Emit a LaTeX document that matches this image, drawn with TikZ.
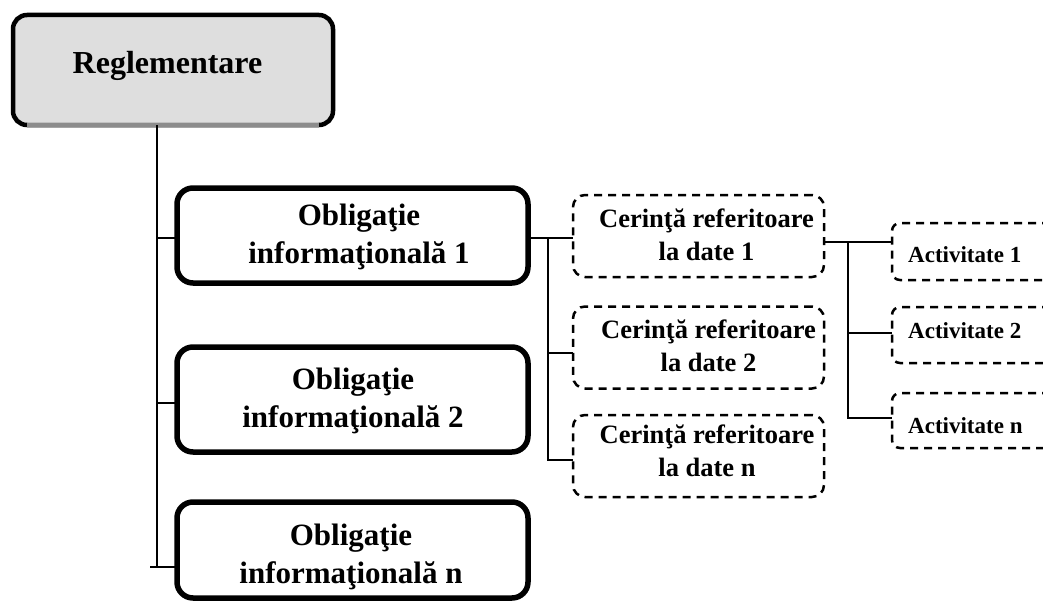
\documentclass[tikz,border=0pt]{standalone}
\usepackage{fontspec}
\setmainfont{Liberation Serif}
\begin{document}
\begin{tikzpicture}[x=1pt,y=-1pt,
  regbox/.style={draw=black, line width=4.5pt, rounded corners=14pt, fill=black!13, minimum width=320pt, minimum height=110pt, inner sep=0pt, outer sep=0pt},
  obbox/.style={draw=black, line width=5.5pt, rounded corners=16pt, minimum width=351pt, inner sep=0pt, outer sep=0pt},
  cerbox/.style={draw=black, line width=2.5pt, dash pattern=on 8pt off 6pt, rounded corners=12pt, minimum width=251pt, minimum height=82pt, inner sep=0pt, outer sep=0pt},
  actbox/.style={draw=black, line width=2.5pt, dash pattern=on 8pt off 6pt, rounded corners=8pt, minimum width=180pt, inner sep=0pt, outer sep=0pt, anchor=west},
  regtext/.style={font=\fontsize{32}{38}\selectfont\bfseries, inner sep=0pt},
  obtext/.style={font=\fontsize{31}{38}\selectfont\bfseries, align=center, inner sep=0pt},
  certext/.style={font=\fontsize{26.5}{33}\selectfont\bfseries, align=center, inner sep=0pt},
  acttext/.style={font=\fontsize{23}{28}\selectfont\bfseries, inner sep=0pt, anchor=base west},
  conn/.style={draw=black, line width=2pt}
]
\useasboundingbox (0,0) rectangle (1043,602);
\clip (0,0) rectangle (1043,602);

% top box
\node[regbox] (reg) at (173,70) {};
\draw[black!45, line width=4.5pt] ([xshift=14pt]reg.south west) -- ([xshift=-14pt]reg.south east);
\node[regtext, anchor=base] (regt) at (167.5,74) {Reglementare};

% obligations
\node[obbox, minimum height=95pt] (o1) at (352.5,235.5) {};
\node[obtext] (o1t) at (359,237) {Obligaţie\\informaţională 1};
\node[obbox, minimum height=105pt] (o2) at (352.5,399.5) {};
\node[obtext] (o2t) at (353,401) {Obligaţie\\informaţională 2};
\node[obbox, minimum height=96pt] (o3) at (352.5,550) {};
\node[obtext] (o3t) at (351,557) {Obligaţie\\informaţională n};

% requirements
\node[cerbox] (c1) at (698.5,236) {};
\node[certext] (c1t) at (706.5,235) {Cerinţă referitoare\\la date 1};
\node[cerbox] (c2) at (698.5,347.5) {};
\node[certext] (c2t) at (708.5,346) {Cerinţă referitoare\\la date 2};
\node[cerbox] (c3) at (698.5,456) {};
\node[certext] (c3t) at (707,451) {Cerinţă referitoare\\la date n};

% activities
\node[actbox, minimum height=57pt] (a1) at (892,251.5) {};
\node[acttext] (a1t) at (908,262) {Activitate 1};
\node[actbox, minimum height=56pt] (a2) at (892,335) {};
\node[acttext] (a2t) at (908,338) {Activitate 2};
\node[actbox, minimum height=55pt] (a3) at (892,420.5) {};
\node[acttext] (a3t) at (908,433) {Activitate n};

% connectors: regulation -> obligations
\coordinate (j1) at (157,238);
\coordinate (j2) at (157,403);
\coordinate (j3) at (157,567);
\draw[conn] (reg.south -| j1) -- (j3);
\draw[conn] (j1) -- (j1 -| o1.west);
\draw[conn] (j2) -- (j2 -| o2.west);
\draw[conn] ([xshift=-7pt]j3) -- (j3 -| o3.west);

% obligation 1 -> requirements
\coordinate (k1) at (548,238);
\coordinate (k2) at (548,353);
\coordinate (k3) at (548,460);
\draw[conn] (k1 -| o1.east) -- (k1 -| c1.west);
\draw[conn] (k1) -- (k3) -- (k3 -| c3.west);
\draw[conn] (k2) -- (k2 -| c2.west);

% requirement 1 -> activities
\coordinate (m1) at (848,242);
\coordinate (m2) at (848,333);
\coordinate (m3) at (848,418);
\draw[conn] (m1 -| c1.east) -- (m1 -| a1.west);
\draw[conn] (m1) -- (m3) -- (m3 -| a3.west);
\draw[conn] (m2) -- (m2 -| a2.west);
\end{tikzpicture}
\end{document}
